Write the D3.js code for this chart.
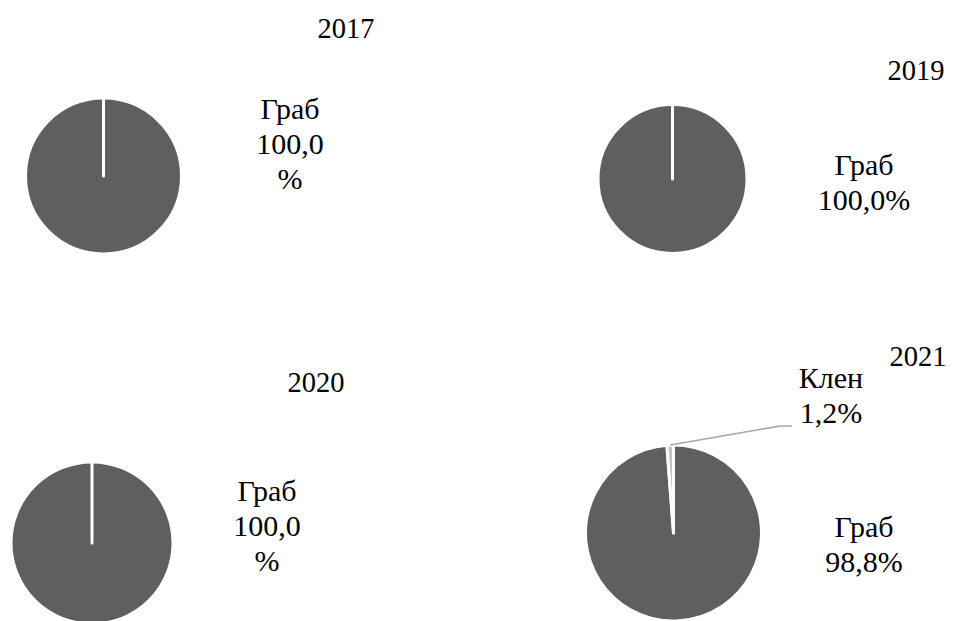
<!DOCTYPE html>
<html>
<head>
<meta charset="utf-8">
<script src="https://cdn.jsdelivr.net/npm/d3@7"></script>
<style>
  html, body { margin: 0; padding: 0; background: #fff; }
  svg { display: block; }
</style>
</head>
<body>
<svg id="chart" width="961" height="621"></svg>
<script>
// ---- data ----
const years = ["2017", "2019", "2020", "2021"];
const species = ["Граб", "Клен"];
const grabValues = [100.0, 100.0, 100.0, 98.8];
const klenValues = [0, 0, 0, 1.2];

// ---- layout (positions / styles) ----
const layout = [
  { cx: 103.5, cy: 176, r: 78,  title: [346, 38],  labels: { "Граб": { x: 290, y: 119, wrap: true } } },
  { cx: 672.5, cy: 179, r: 74.5, title: [916, 80], labels: { "Граб": { x: 864, y: 175, wrap: false } } },
  { cx: 92,    cy: 543, r: 81,  title: [316, 392], labels: { "Граб": { x: 267, y: 501, wrap: true } } },
  { cx: 673.5, cy: 533, r: 88,  title: [918, 366], labels: { "Граб": { x: 864, y: 537, wrap: false },
                                                            "Клен": { x: 831, y: 388, wrap: false, leader: [[780, 426], [792, 426]] } } }
];
const colors = d3.scaleOrdinal().domain(species).range(["#5f5f5f", "#c4c4c4"]);
const fontFamily = "'Liberation Serif'";
const titleSize = 28.5;
const labelSize = 30;
const lineGap = 35;

const svg = d3.select("#chart");
const fmt = v => d3.format(".1f")(v).replace(".", ",");

const pie = d3.pie().sort(null).value(d => d.value);

years.forEach((year, i) => {
  const L = layout[i];
  const data = species.map((s, k) => ({ name: s, value: k === 0 ? grabValues[i] : klenValues[i] }));
  const arcs = pie(data);
  const arc = d3.arc().innerRadius(0).outerRadius(L.r);
  const g = svg.append("g").attr("transform", `translate(${L.cx},${L.cy})`);

  g.selectAll("path.slice")
    .data(arcs)
    .join("path")
    .attr("class", "slice")
    .attr("d", arc)
    .attr("fill", d => colors(d.data.name))
    .attr("stroke", "#ffffff")
    .attr("stroke-width", 3)
    .attr("stroke-linejoin", "round");

  // title
  svg.append("text")
    .attr("x", L.title[0]).attr("y", L.title[1])
    .attr("text-anchor", "middle")
    .attr("font-family", fontFamily)
    .attr("font-size", titleSize)
    .attr("fill", "#000")
    .text(year);

  // labels
  arcs.forEach(a => {
    if (!(a.data.value > 0)) return;
    const lab = L.labels[a.data.name];
    if (!lab) return;
    const pct = fmt(a.data.value);
    const lines = lab.wrap ? [a.data.name, pct, "%"] : [a.data.name, pct + "%"];
    const t = svg.append("text")
      .attr("text-anchor", "middle")
      .attr("font-family", fontFamily)
      .attr("font-size", labelSize)
      .attr("fill", "#000");
    lines.forEach((ln, j) => {
      t.append("tspan").attr("x", lab.x).attr("y", lab.y + j * lineGap).text(ln);
    });
    if (lab.leader) {
      const mid = (a.startAngle + a.endAngle) / 2;
      const p0 = d3.pointRadial(mid, L.r);
      const pts = [[L.cx + p0[0], L.cy + p0[1]], ...lab.leader];
      svg.append("path")
        .attr("d", d3.line()(pts))
        .attr("fill", "none")
        .attr("stroke", "#a6a6a6")
        .attr("stroke-width", 1.5);
    }
  });
});
</script>
</body>
</html>
